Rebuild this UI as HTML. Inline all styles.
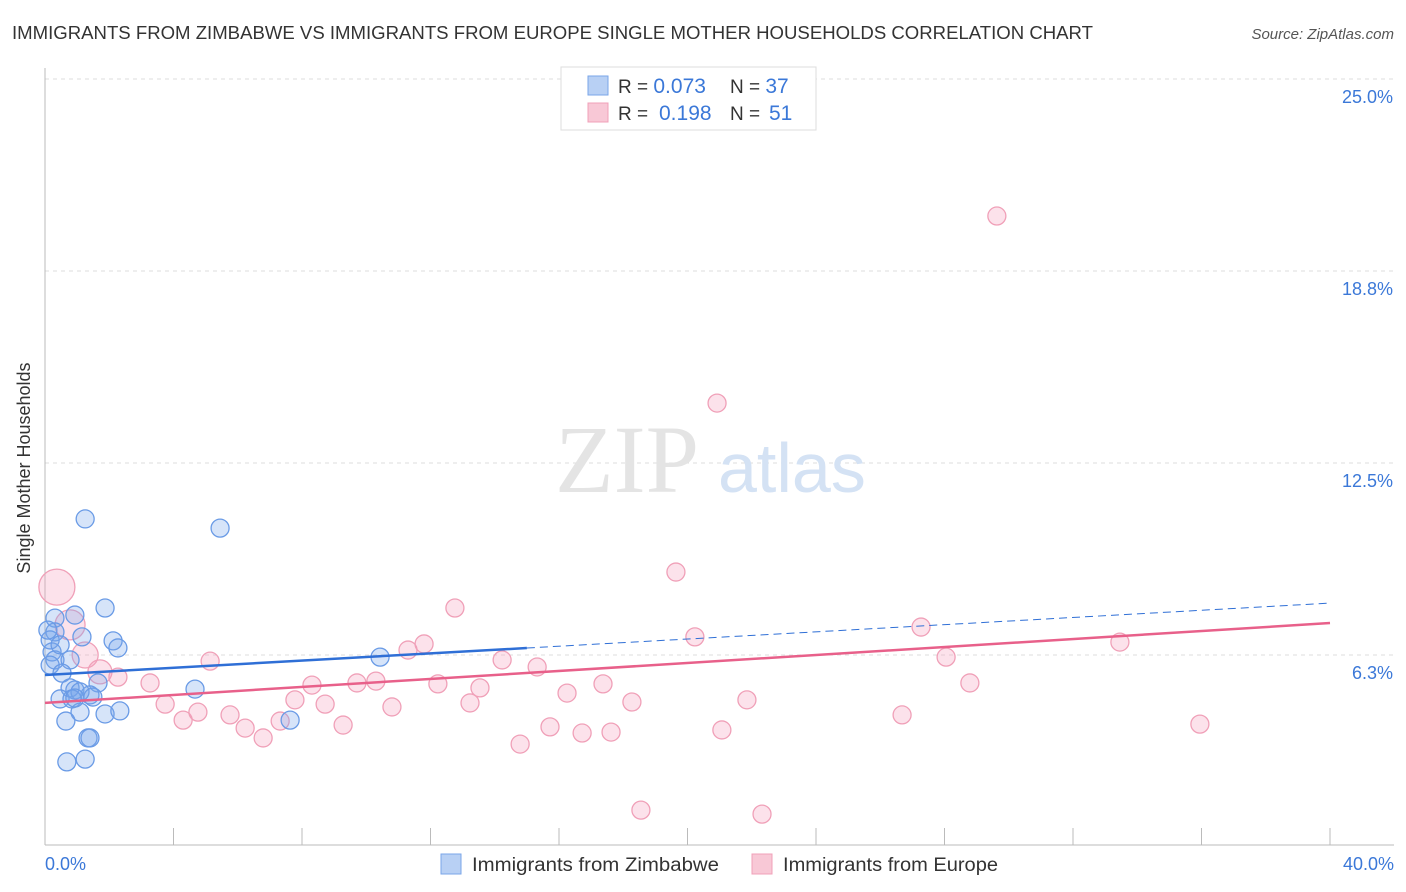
<!DOCTYPE html>
<html><head><meta charset="utf-8"><style>
body{margin:0;background:#fff;font-family:"Liberation Sans",sans-serif;}
svg{display:block}
</style></head><body>
<svg id="chart" width="1406" height="892" xmlns="http://www.w3.org/2000/svg">
<text x="12" y="39" font-size="18" fill="#333" textLength="1081" lengthAdjust="spacingAndGlyphs">IMMIGRANTS FROM ZIMBABWE VS IMMIGRANTS FROM EUROPE SINGLE MOTHER HOUSEHOLDS CORRELATION CHART</text>
<text x="1394" y="39" font-size="15" fill="#555" text-anchor="end" font-style="italic">Source: ZipAtlas.com</text>
<g id="grid"></g>
<g><text x="555" y="492" font-size="96" font-family="Liberation Serif,serif" fill="#e4e4e4">ZIP</text><text x="718" y="492" font-size="70" fill="#d4e2f4">atlas</text></g>
<line x1="45" y1="68" x2="45" y2="845" stroke="#bbb"/>
<line x1="45" y1="845" x2="1394" y2="845" stroke="#bbb"/>
<text x="18" y="456" font-size="18" fill="#333" text-anchor="middle" transform="rotate(-90 30 456)">Single Mother Households</text>
<text x="45" y="870" font-size="18" fill="#3b78d8">0.0%</text>
<text x="1394" y="870" font-size="18" fill="#3b78d8" text-anchor="end">40.0%</text>
<g id="marks"></g>
<g>
<rect x="561" y="67" width="255" height="63" fill="#fff" stroke="#ddd"/>
<rect x="588" y="76" width="20" height="19" fill="#b8d0f4" stroke="#7aa6e8"/>
<rect x="588" y="103" width="20" height="19" fill="#f8c8d6" stroke="#f0a0b8"/>
<text x="618" y="93" font-size="19" fill="#333">R = <tspan fill="#3b78d8" font-size="21">0.073</tspan><tspan x="730">N = </tspan><tspan fill="#3b78d8" font-size="21">37</tspan></text>
<text x="618" y="120" font-size="19" fill="#333">R = <tspan x="659" fill="#3b78d8" font-size="21">0.198</tspan><tspan x="730">N = </tspan><tspan x="769" fill="#3b78d8" font-size="21">51</tspan></text>
</g>
<g>
<rect x="441" y="854" width="20" height="20" fill="#b8d0f4" stroke="#7aa6e8"/>
<text x="472" y="871" font-size="19" fill="#333" textLength="247" lengthAdjust="spacingAndGlyphs">Immigrants from Zimbabwe</text>
<rect x="752" y="854" width="20" height="20" fill="#f8c8d6" stroke="#f0a0b8"/>
<text x="783" y="871" font-size="19" fill="#333" textLength="215" lengthAdjust="spacingAndGlyphs">Immigrants from Europe</text>
</g>
</svg>
<script>
const yTicks=[6.25,12.5,18.75,25];
const yTickLabels=["6.3%","12.5%","18.8%","25.0%"];
const xTicks=[0,4,8,12,16,20,24,28,32,36,40];
const blueX=[1.25,5.45,1.87,0.31,0.93,0.31,1.15,2.12,2.27,0.22,0.31,0.78,0.16,0.53,1.65,0.78,0.93,1.40,1.09,0.47,0.84,4.67,1.49,10.43,1.09,1.87,2.33,0.65,7.63,1.34,1.40,1.25,0.68,0.16,0.09,0.47,0.93];
const blueY=[10.68,10.38,7.78,7.45,7.55,7.00,6.84,6.71,6.48,6.35,6.09,6.09,5.92,5.66,5.34,5.18,5.11,4.95,5.05,4.82,4.82,5.14,4.88,6.18,4.39,4.33,4.43,4.10,4.13,3.55,3.55,2.86,2.77,6.74,7.06,6.58,4.85];
const pinkX=[0.37,0.78,1.25,1.71,2.27,3.27,5.14,3.74,4.30,4.76,5.76,6.23,6.79,7.32,7.78,8.31,8.72,9.28,9.71,10.30,10.80,11.30,11.80,12.23,12.76,13.23,13.54,14.23,14.79,15.32,15.72,16.25,16.72,17.37,17.62,18.27,18.55,19.64,20.23,20.92,21.07,21.85,22.32,26.68,27.27,28.05,28.79,29.63,33.46,35.95];
const pinkY=[8.46,7.23,6.25,5.70,5.53,5.34,6.05,4.65,4.13,4.39,4.30,3.87,3.55,4.10,4.79,5.27,4.65,3.97,5.34,5.40,4.56,6.41,6.61,5.31,7.78,4.69,5.18,6.09,3.35,5.86,3.91,5.01,3.71,5.31,3.74,4.72,1.20,8.95,6.84,14.45,3.81,4.79,1.07,4.30,7.16,6.18,5.34,20.54,6.67,4.00];
const pinkR=[18,15,13,12];
const blueTrend=[5.60,7.94];
const pinkTrend=[4.69,7.29];
const blueSolidEnd=15;
const NS="http://www.w3.org/2000/svg";
const xs=v=>45+v*32.125, ys=v=>847-v*30.72;
function mk(tag,attrs,parent){const e=document.createElementNS(NS,tag);for(const k in attrs)e.setAttribute(k,attrs[k]);parent.appendChild(e);return e;}
const grid=document.getElementById('grid'), marks=document.getElementById('marks');
yTicks.forEach((t,i)=>{
 const l=mk('line',{x1:45,x2:1394,y1:ys(t),y2:ys(t),stroke:'#ddd','stroke-dasharray':'4,4'},grid);
 
 
 const tx=mk('text',{x:1393,y:ys(t)+24,'font-size':18,fill:'#3b78d8','text-anchor':'end'},grid);
 tx.textContent=yTickLabels[i];
 
 
});
xTicks.forEach(t=>{
 const l=mk('line',{x1:xs(t),x2:xs(t),y1:828,y2:845,stroke:'#bbb'},grid);
 
 
});
pinkX.forEach((x,i)=>{
 const c=mk('circle',{cx:xs(x),cy:ys(pinkY[i]),r:pinkR[i]||9,fill:'rgba(244,160,188,0.3)',stroke:'#f0a0b8','stroke-width':1.3},marks);
 
 
});
blueX.forEach((x,i)=>{
 const c=mk('circle',{cx:xs(x),cy:ys(blueY[i]),r:9,fill:'rgba(120,165,235,0.3)',stroke:'#6a9be6','stroke-width':1.3},marks);
 
 
});
const bAt=x=>blueTrend[0]+(blueTrend[1]-blueTrend[0])*x/40;
let l1=mk('line',{x1:xs(0),y1:ys(bAt(0)),x2:xs(blueSolidEnd),y2:ys(bAt(blueSolidEnd)),stroke:'#2f6fd6','stroke-width':2.5},marks);


let l2=mk('line',{x1:xs(blueSolidEnd),y1:ys(bAt(blueSolidEnd)),x2:xs(40),y2:ys(bAt(40)),stroke:'#2f6fd6','stroke-width':1,'stroke-dasharray':'8,5'},marks);


let l3=mk('line',{x1:xs(0),y1:ys(pinkTrend[0]),x2:xs(40),y2:ys(pinkTrend[1]),stroke:'#e8608a','stroke-width':2.5},marks);


</script>
</body></html>
